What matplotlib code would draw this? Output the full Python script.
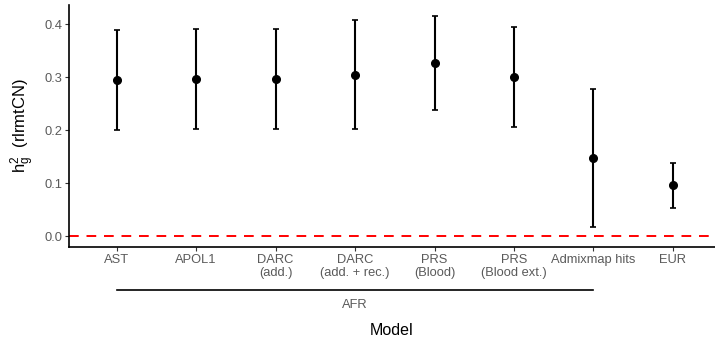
import numpy as np
import matplotlib.pyplot as plt
import matplotlib.transforms as mtransforms

plt.rcParams['font.family'] = ['Liberation Sans', 'DejaVu Sans']

models = ["AST", "APOL1", "DARC\n(add.)", "DARC\n(add. + rec.)", "PRS\n(Blood)",
          "PRS\n(Blood ext.)", "Admixmap hits", "EUR"]
h2 = [0.295, 0.297, 0.297, 0.305, 0.3275, 0.3005, 0.148, 0.096]
lower = [0.201, 0.202, 0.203, 0.203, 0.238, 0.206, 0.017, 0.054]
upper = [0.389, 0.391, 0.391, 0.408, 0.416, 0.3955, 0.2785, 0.138]
afr_group = ["AST", "Admixmap hits"]

if __name__ == "__main__":
    W, H = 715, 344
    fig = plt.figure(figsize=(W / 100, H / 100), dpi=100)
    ax = fig.add_axes([69 / W, (H - 247) / H, (715 - 69) / W, (247 - 5) / H])

    x = np.arange(1, len(models) + 1)
    h2 = np.array(h2)
    yerr = [h2 - np.array(lower), np.array(upper) - h2]
    ax.axhline(0, color='red', ls=(0, (5, 4)), lw=1.4, zorder=1)
    ax.errorbar(x, h2, yerr=yerr, fmt='o', color='black', ms=5.5,
                elinewidth=1.5, capsize=2, capthick=1.2, zorder=3)

    grey = '#5a5a5a'
    ax.set_xlim(0.4, 8.53)
    ax.set_ylim(-0.0205, 0.4368)
    ax.set_xticks(x)
    ax.set_xticklabels(models, color=grey, fontsize=9.3, linespacing=1.15)
    ax.set_yticks([0, 0.1, 0.2, 0.3, 0.4])
    ax.set_yticklabels(["0.0", "0.1", "0.2", "0.3", "0.4"], color=grey, fontsize=9.3)
    ax.tick_params(length=3, width=0.8, color='#333333', pad=2)
    for side in ['top', 'right']:
        ax.spines[side].set_visible(False)
    for side in ['left', 'bottom']:
        ax.spines[side].set_linewidth(1.2)

    ax.set_ylabel(r"$\mathregular{h_g^2}$  (rlrmtCN)", fontsize=12, labelpad=5)

    # AFR bracket below the tick labels
    tr = mtransforms.blended_transform_factory(ax.transData, ax.transAxes)
    i0 = models.index(afr_group[0]) + 1
    i1 = models.index(afr_group[1]) + 1
    ax.plot([i0, i1], [-0.178, -0.178], color='black', lw=1.2,
            transform=tr, clip_on=False)
    ax.text(4, -0.24, "AFR", transform=tr, ha='center', va='center',
            color=grey, fontsize=9.3)
    ax.text(0.5, -0.343, "Model", transform=ax.transAxes, ha='center',
            va='center', fontsize=11.5)

    fig.savefig("out.png", dpi=100)
